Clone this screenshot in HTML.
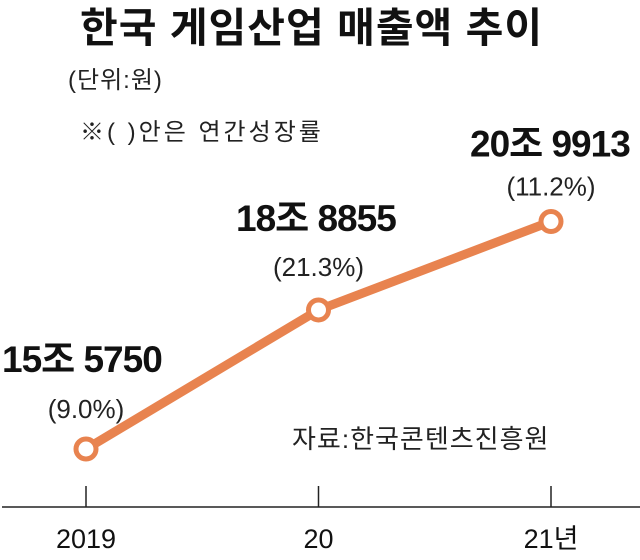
<!DOCTYPE html>
<html><head><meta charset="utf-8"><style>
body{margin:0;background:#fff;}
svg text{font-family:"Liberation Sans","Noto Sans CJK KR",sans-serif;}
</style></head><body>
<svg width="640" height="555" viewBox="0 0 640 555">
<text x="80" y="42" font-size="41" font-weight="bold" fill="#111" letter-spacing="1">한국 게임산업 매출액 추이</text>
<text x="68" y="88" font-size="24" fill="#222" letter-spacing="1">(단위:원)</text>
<text x="80" y="140" font-size="24" fill="#222" letter-spacing="3">※( )안은 연간성장률</text>
<text x="292" y="448" font-size="26" fill="#222" letter-spacing="1">자료:한국콘텐츠진흥원</text>
<line x1="2" y1="507" x2="640" y2="507" stroke="#222" stroke-width="1.5"/>
<g id="g"></g>
</svg>
<script>
const categories=["2019","20","21년"];
const values=[15.5750,18.8855,20.9913];
const valueLabels=["15조 5750","18조 8855","20조 9913"];
const growthLabels=["(9.0%)","(21.3%)","(11.2%)"];
const xs=i=>86+i*232.5;
const ys=v=>449-(v-15.575)*42;
const NS="http://www.w3.org/2000/svg";
const g=document.getElementById('g');
function mk(t,a){const e=document.createElementNS(NS,t);for(const k in a)e.setAttribute(k,a[k]);g.appendChild(e);return e;}
const line=mk('polyline',{points:values.map((v,i)=>xs(i)+','+ys(v)).join(' '),fill:'none',stroke:'#e8834f','stroke-width':9});


const lx=[2,236,470], offs=[[-77,-31],[-79,-34],[-65,-26]];
values.forEach((v,i)=>{
 const x=xs(i),y=ys(v);
 const tk=mk('line',{x1:x,y1:486,x2:x,y2:507,stroke:'#222','stroke-width':1.5});
 
 
 const tl=mk('text',{x:x,y:548,'font-size':27,'text-anchor':'middle',fill:'#111'});tl.textContent=categories[i];
 
 
 const c=mk('circle',{cx:x,cy:y,r:10,fill:'#fff',stroke:'#e8834f','stroke-width':5});
 
 
 const vl=mk('text',{x:lx[i],y:y+offs[i][0],'font-size':37,'font-weight':'bold',fill:'#111','letter-spacing':'-1'});vl.textContent=valueLabels[i];
 
 
 const gl=mk('text',{x:x,y:y+offs[i][1],'font-size':26,'text-anchor':'middle',fill:'#222'});gl.textContent=growthLabels[i];
 
 
});
</script>
</body></html>
